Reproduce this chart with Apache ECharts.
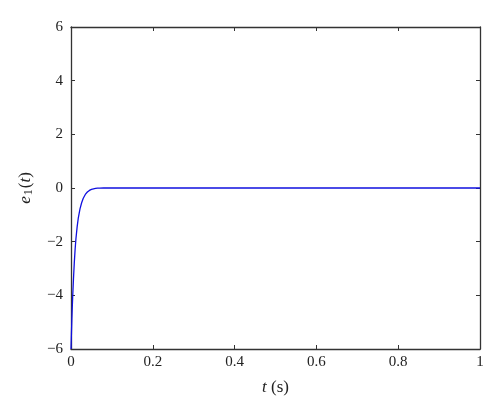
<!DOCTYPE html>
<html>
<head>
<meta charset="utf-8">
<script src="https://cdn.jsdelivr.net/npm/echarts@6/dist/echarts.min.js"></script>
<style>html,body{margin:0;padding:0;background:#fff}#c{width:500px;height:413px}</style>
</head>
<body>
<div id="c"></div>
<script>
var tValues = [0, 0.001, 0.002, 0.003, 0.004, 0.006, 0.008, 0.010, 0.012, 0.015, 0.018, 0.022, 0.026, 0.030, 0.035, 0.040, 0.045, 0.050, 0.055, 0.060, 0.065, 0.070, 0.080, 0.1, 0.2, 0.3, 0.4, 0.5, 0.6, 0.7, 0.8, 0.9, 1.0];
var e1Values = [-6, -5.45, -4.95, -4.5, -4.1, -3.4, -2.8, -2.3, -1.9, -1.45, -1.1, -0.78, -0.55, -0.38, -0.24, -0.15, -0.09, -0.05, -0.03, -0.015, -0.007, -0.002, 0, 0, 0, 0, 0, 0, 0, 0, 0, 0, 0];
var xTicks = [0, 0.2, 0.4, 0.6, 0.8, 1];
var yTicks = [-6, -4, -2, 0, 2, 4, 6];

var font = '"Liberation Serif", "DejaVu Serif", serif';
var axisCol = '#333333';
var chart = echarts.init(document.getElementById('c'));
var data = tValues.map(function (t, i) { return [t, e1Values[i]]; });
var common = {
  axisLine: { onZero: false, lineStyle: { color: axisCol, width: 1.3 } },
  axisTick: { inside: true, length: 4, lineStyle: { color: axisCol, width: 1 } },
  splitLine: { show: false }
};
chart.setOption({
  animation: false,
  grid: { left: 71, right: 20, top: 27, bottom: 64, containLabel: false },
  xAxis: [
    Object.assign({}, common, {
      type: 'value', min: 0, max: 1, interval: 0.2, position: 'bottom',
      axisLabel: { color: '#222', fontFamily: font, fontSize: 15, margin: 6,
        formatter: function (v) { return String(Math.round(v * 10) / 10); } },
      name: '{i|t} (s)', nameLocation: 'middle', nameGap: 30,
      nameTextStyle: { color: '#222', fontFamily: font, fontSize: 17,
        rich: { i: { fontStyle: 'italic', fontFamily: font, fontSize: 17, color: '#222' } } }
    }),
    Object.assign({}, common, {
      type: 'value', min: 0, max: 1, interval: 0.2, position: 'top',
      axisLabel: { show: false }
    })
  ],
  yAxis: [
    Object.assign({}, common, {
      type: 'value', min: -6, max: 6, interval: 2, position: 'left',
      axisLabel: { color: '#222', fontFamily: font, fontSize: 15, margin: 8,
        formatter: function (v) { return v < 0 ? '\u2212' + Math.abs(v) : String(v); } },
      name: '{i|e}{s|1}({i|t})', nameLocation: 'middle', nameGap: 36, nameRotate: 90,
      nameTextStyle: { color: '#222', fontFamily: font, fontSize: 17,
        rich: {
          i: { fontStyle: 'italic', fontFamily: font, fontSize: 17, color: '#222' },
          s: { fontFamily: font, fontSize: 12, color: '#222', verticalAlign: 'bottom', padding: [6, 1, 0, 1] }
        } }
    }),
    Object.assign({}, common, {
      type: 'value', min: -6, max: 6, interval: 2, position: 'right',
      axisLabel: { show: false }
    })
  ],
  series: [{
    type: 'line', data: data, showSymbol: false, smooth: false,
    lineStyle: { color: '#1010e0', width: 1.3 }
  }]
});
</script>
</body>
</html>
